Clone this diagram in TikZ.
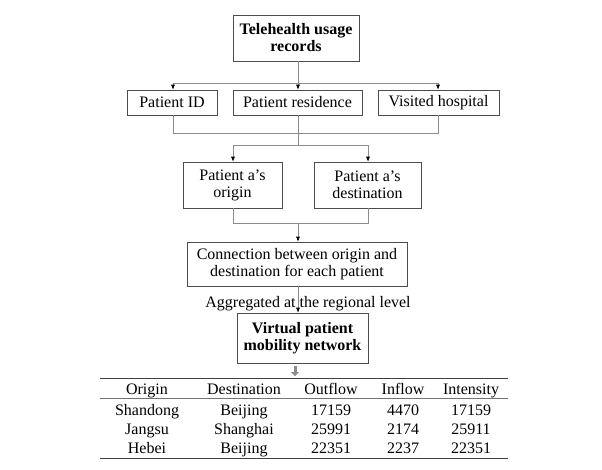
\documentclass[tikz,border=0pt]{standalone}
\usepackage{fontspec}
\setmainfont{Liberation Serif}
\usetikzlibrary{arrows.meta}
\begin{document}
\begin{tikzpicture}[x=1pt,y=-1pt,
  box/.style={draw=black!70,line width=0.6pt,inner sep=0pt,align=center,font=\fontsize{16}{17}\selectfont},
  con/.style={draw=black!45,line width=0.6pt},
  arr/.style={con,-{Latex[length=5pt,width=4pt,black]}},
  cell/.style={font=\fontsize{16}{17}\selectfont,anchor=base,inner sep=0pt}]
\useasboundingbox (0,0) rectangle (602,469);
\node[box,minimum width=126,minimum height=46,font=\fontsize{16}{17}\selectfont\bfseries] (top) at (296,38) {Telehealth usage\\records};
\node[box,minimum width=90,minimum height=25] (pid) at (172,102.5) {Patient ID};
\node[box,minimum width=129,minimum height=25] (res) at (297.5,102.5) {Patient residence};
\node[box,minimum width=121,minimum height=25] (vis) at (438.5,102.5) {Visited hospital};
\node[box,minimum width=99,minimum height=46] (ori) at (232.5,185) {Patient a’s\\origin};
\node[box,minimum width=107,minimum height=46] (dst) at (367.5,185) {Patient a’s\\destination};
\node[box,minimum width=220,minimum height=44] (conn) at (297,264) {Connection between origin and\\destination for each patient};
\node[box,minimum width=131,minimum height=50,font=\fontsize{16}{17}\selectfont\bfseries] (vir) at (302.5,338) {Virtual patient\\mobility network};
\node[cell] (agg) at (308,307) {Aggregated at the regional level};
\coordinate (j1) at (298,83);
\coordinate (j2) at (298,133);
\coordinate (j3) at (298,145);
\coordinate (j4) at (298,223);
\draw[con] (top.south -| j1) -- (j1);
\draw[con] (173,83) -- (438,83);
\draw[arr] (173,83) -- (pid.north -| 173,0);
\draw[arr] (j1) -- (res.north -| j1);
\draw[arr] (438,83) -- (vis.north -| 438,0);
\draw[con] (pid.south -| 173,0) -- (173,133) -- (438,133) -- (vis.south -| 438,0);
\draw[con] (res.south -| j2) -- (j3);
\draw[con] (233,145) -- (368,145);
\draw[arr] (233,145) -- (ori.north -| 233,0);
\draw[arr] (368,145) -- (dst.north -| 368,0);
\draw[con] (ori.south -| 233,0) -- (233,223) -- (368,223) -- (dst.south -| 368,0);
\draw[arr] (j4) -- (conn.north -| j4);
\draw[arr] (conn.south -| 298,0) -- (vir.north -| 298,0);
\draw[-{Triangle[length=4pt,width=8pt]},draw=black!45,fill=black!45,color=black!45,line width=3pt] (vir.south -| 295,0) ++(0,3) -- (295,376);
\draw[black!75,line width=1pt] (100,378) -- (508,378);
\draw[black!55,line width=0.6pt] (100,398) -- (508,398);
\draw[black!75,line width=1pt] (100,458) -- (508,458);
\foreach \t/\x in {Origin/147,Destination/244,Outflow/331,Inflow/403,Intensity/471}
  \node[cell] (h\t) at (\x,394) {\t};
\foreach \a/\b/\c/\d/\e/\y in {Shandong/Beijing/17159/4470/17159/415,Jangsu/Shanghai/25991/2174/25911/434,Hebei/Beijing/22351/2237/22351/453}{
  \node[cell] (a\y) at (147,\y) {\a};
  \node[cell] (b\y) at (244,\y) {\b};
  \node[cell] (c\y) at (331,\y) {\c};
  \node[cell] (d\y) at (403,\y) {\d};
  \node[cell] (e\y) at (471,\y) {\e};}
\end{tikzpicture}
\end{document}
